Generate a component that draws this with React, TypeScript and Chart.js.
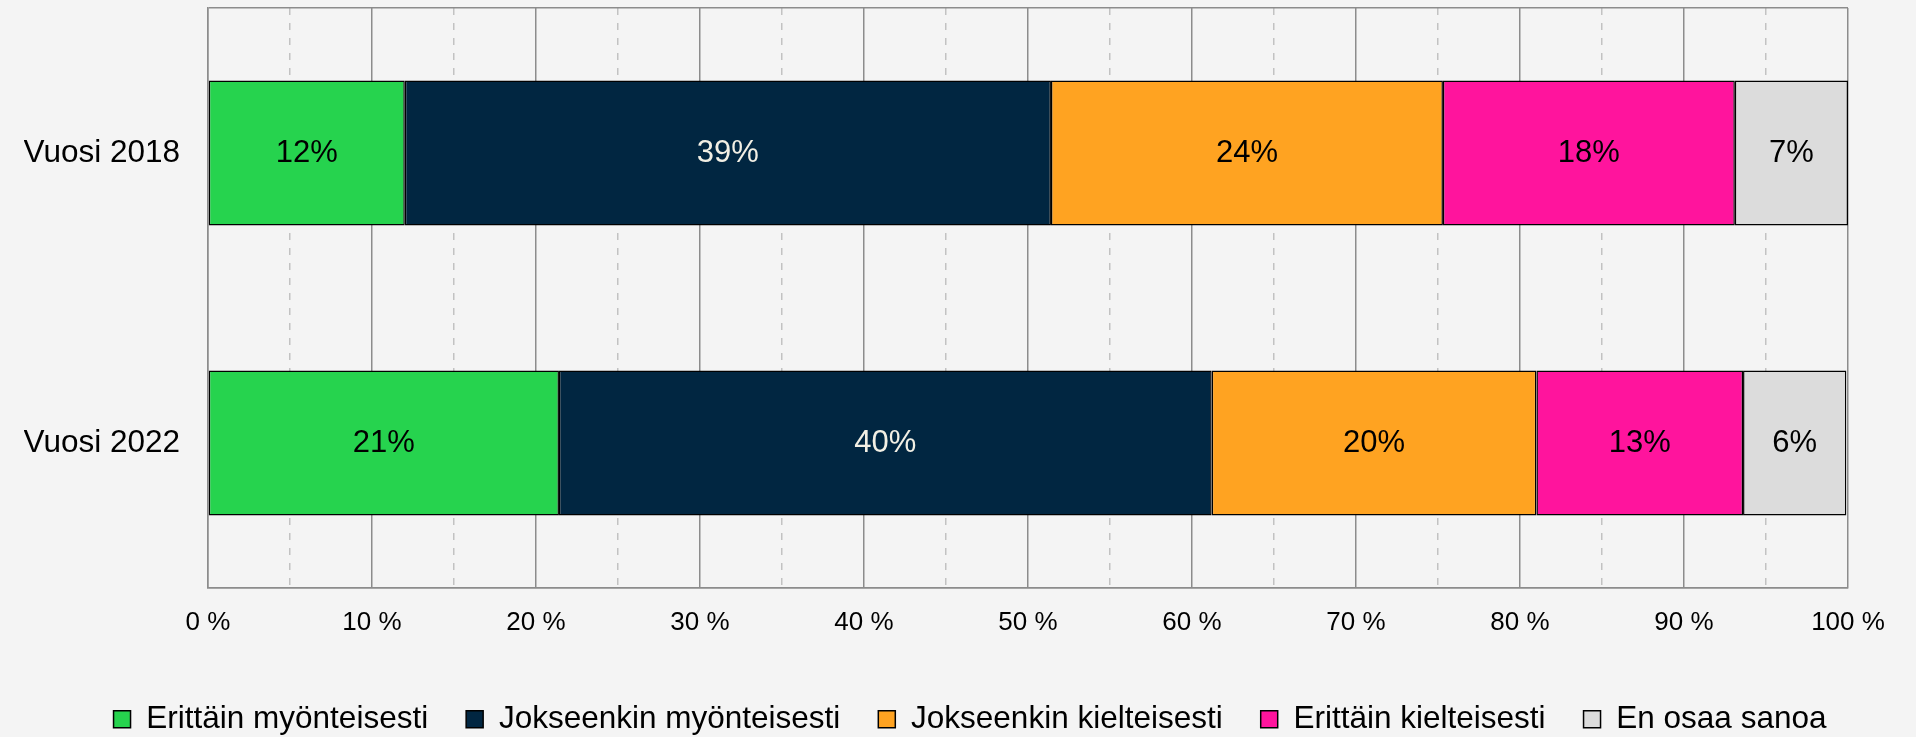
import React, { useEffect, useRef } from 'react';
import { Chart, registerables } from 'chart.js';

Chart.register(...registerables);

// ---- Data ----
const categories = ['Vuosi 2018', 'Vuosi 2022'];
const seriesNames = [
  'Erittäin myönteisesti',
  'Jokseenkin myönteisesti',
  'Jokseenkin kielteisesti',
  'Erittäin kielteisesti',
  'En osaa sanoa',
];
const erittainMyonteisesti = [12.0, 21.4];
const jokseenkinMyonteisesti = [39.4, 39.8];
const jokseenkinKielteisesti = [23.9, 19.8];
const erittainKielteisesti = [17.8, 12.6];
const enOsaaSanoa = [6.9, 6.3];
const xTickLabels = ['0 %', '10 %', '20 %', '30 %', '40 %', '50 %', '60 %', '70 %', '80 %', '90 %', '100 %'];

// ---- Styles ----
const seriesColors = ['#26D34E', '#012641', '#FFA321', '#FF149D', '#DCDCDC'];
const labelColors = ['#000000', '#F2EFE4', '#000000', '#000000', '#000000'];
const FONT = '"Liberation Sans", Arial, sans-serif';
const BG = '#F4F4F4';
const MAJOR = '#8C8C8C';
const MINOR = '#C2C2C2';

const valueLabels = {
  id: 'valueLabels',
  afterDatasetsDraw(chart: any) {
    const ctx = chart.ctx;
    ctx.save();
    ctx.font = '31px ' + FONT;
    ctx.textAlign = 'center';
    ctx.textBaseline = 'middle';
    chart.data.datasets.forEach((ds: any, di: number) => {
      const meta = chart.getDatasetMeta(di);
      meta.data.forEach((el: any, i: number) => {
        const v = ds.data[i];
        const p = el.getProps(['x', 'y', 'base'], true);
        ctx.fillStyle = labelColors[di];
        ctx.fillText(Math.round(v) + '%', (p.x + p.base) / 2, p.y);
      });
    });
    ctx.restore();
  },
};

export default function App() {
  const ref = useRef<HTMLCanvasElement | null>(null);

  useEffect(() => {
    document.body.style.margin = '0';
    document.body.style.overflow = 'hidden';
    document.body.style.background = BG;
    const canvas = ref.current;
    if (!canvas) return;
    const values = [erittainMyonteisesti, jokseenkinMyonteisesti, jokseenkinKielteisesti, erittainKielteisesti, enOsaaSanoa];
    const chart = new Chart(canvas, {
      type: 'bar',
      data: {
        labels: categories,
        datasets: values.map((d, i) => ({
          label: seriesNames[i],
          data: d,
          backgroundColor: seriesColors[i],
          borderColor: '#000000',
          borderWidth: 1.5,
          borderSkipped: false,
          barPercentage: 1,
          categoryPercentage: 0.5,
        })),
      },
      options: {
        indexAxis: 'y',
        responsive: false,
        animation: false,
        devicePixelRatio: 1,
        layout: { padding: { top: 8, left: 24, right: 0, bottom: -8 } },
        plugins: {
          tooltip: { enabled: false },
          legend: {
            position: 'bottom',
            labels: {
              boxWidth: 17,
              boxHeight: 17,
              padding: 38,
              color: '#000000',
              font: { size: 31.5, family: FONT },
            },
          },
        },
        scales: {
          x: {
            stacked: true,
            min: 0,
            max: 100,
            ticks: {
              stepSize: 5,
              autoSkip: false,
              maxRotation: 0,
              padding: 19,
              color: '#000000',
              font: { size: 26, family: FONT },
              callback: (v: any) => (Number(v) % 10 === 0 ? xTickLabels[Number(v) / 10] : ''),
            },
            grid: {
              drawTicks: false,
              lineWidth: 1.5,
              color: (c: any) => (c.tick && c.tick.value % 10 !== 0 ? MINOR : MAJOR),
              borderDash: (c: any) => (c.tick && c.tick.value % 10 !== 0 ? [7, 8] : []),
            } as any,
            border: {
              display: true,
              color: MAJOR,
              width: 1.5,
              dash: (c: any) => (c.tick && c.tick.value % 10 !== 0 ? [7, 8] : []),
            } as any,
            afterFit: (s: any) => {
              s.height = 77.5;
              s.paddingLeft = 0;
              s.paddingRight = 68;
            },
          },
          y: {
            stacked: true,
            ticks: {
              padding: 28,
              color: '#000000',
              font: { size: 31.5, family: FONT },
            },
            grid: {
              drawTicks: false,
              lineWidth: 1.5,
              color: (c: any) => (c.index === 1 ? 'rgba(0,0,0,0)' : MAJOR),
            },
            border: { display: true, color: MAJOR, width: 1.5 },
            afterFit: (s: any) => {
              s.width = 184;
              s.paddingTop = 0;
              s.paddingBottom = 0;
            },
          },
        },
      } as any,
      plugins: [valueLabels],
    });
    return () => chart.destroy();
  }, []);

  return (
    <div style={{ width: 1916, height: 737, background: BG }}>
      <canvas ref={ref} width={1916} height={737} style={{ display: 'block', background: BG }} />
    </div>
  );
}
